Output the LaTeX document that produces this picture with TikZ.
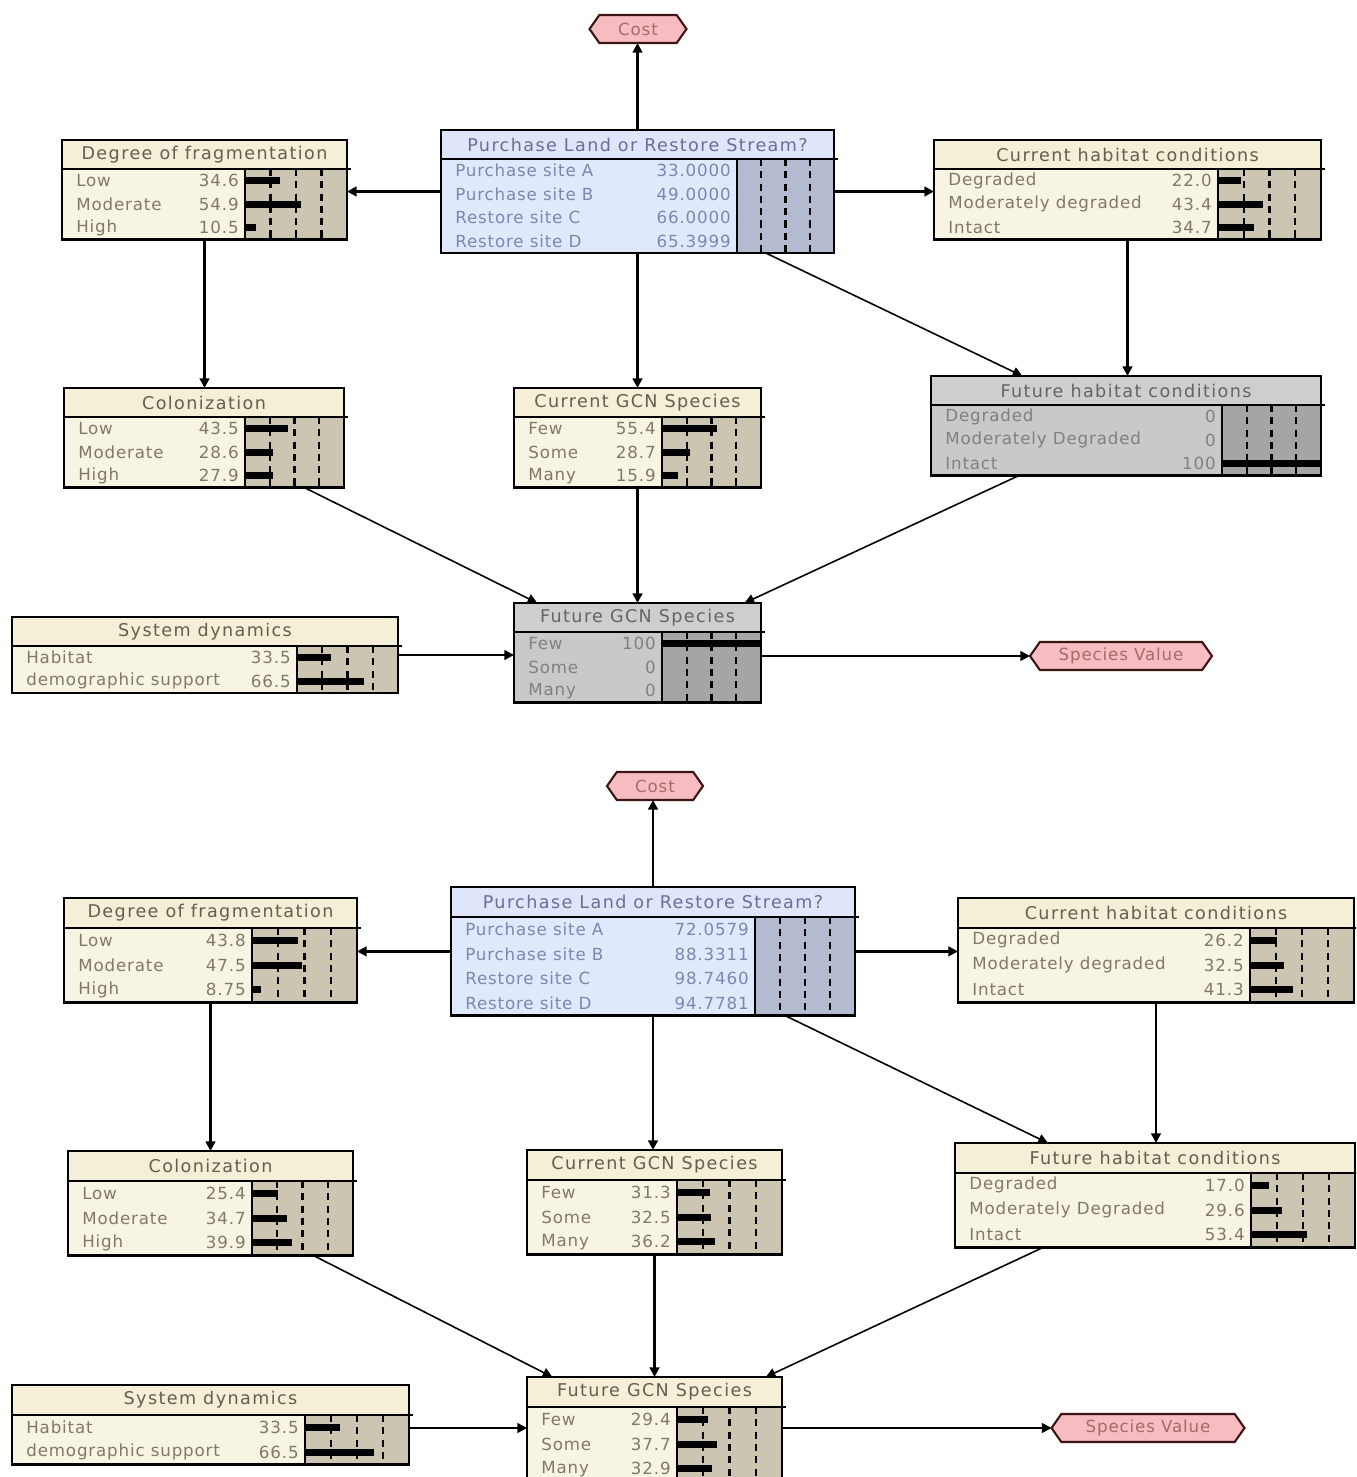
\documentclass[tikz,border=0pt]{standalone}
\usepackage{fontspec}
\setmainfont{DejaVu Sans}
\newfontfamily\headfont[LetterSpace=8]{DejaVu Sans}
\newfontfamily\rowfont[LetterSpace=5]{DejaVu Sans}
\usetikzlibrary{arrows.meta,fit,shapes.symbols}

\definecolor{creamtitle}{RGB}{244,239,214}
\definecolor{creambody}{RGB}{248,244,228}
\definecolor{creambar}{RGB}{203,197,178}
\definecolor{creamtext}{RGB}{128,122,100}
\definecolor{creamhead}{RGB}{100,95,78}
\definecolor{bluetitle}{RGB}{224,230,250}
\definecolor{bluebody}{RGB}{224,232,252}
\definecolor{bluebar}{RGB}{180,186,208}
\definecolor{bluetext}{RGB}{125,135,175}
\definecolor{bluehead}{RGB}{105,112,150}
\definecolor{greytitle}{RGB}{206,206,206}
\definecolor{greybody}{RGB}{201,201,201}
\definecolor{greybar}{RGB}{165,165,165}
\definecolor{greytext}{RGB}{128,128,128}
\definecolor{greyhead}{RGB}{100,100,100}
\definecolor{utilfill}{RGB}{246,188,194}
\definecolor{utilline}{RGB}{60,20,20}
\definecolor{utiltext}{RGB}{170,105,105}

\tikzset{
  bnbox/.style={draw,line width=1.6pt,inner sep=0pt,outer sep=0pt},
  gridline/.style={line width=1.4pt,dash pattern=on 4pt off 3pt},
  rowtext/.style={font=\rowfont\fontsize{9.5}{10}\selectfont,inner sep=0pt},
  headtext/.style={font=\headfont\fontsize{10}{11}\selectfont,inner sep=0pt},
  utility/.style={signal,signal to=west and east,signal pointer angle=110,
    draw=utilline,fill=utilfill,line width=1.2pt,text=utiltext,
    font=\rowfont\fontsize{9.5}{10}\selectfont,minimum height=0.56cm,inner sep=0pt,outer sep=0pt},
  link/.style={-{Triangle[length=5.5pt,width=5.5pt]},line width=1.5pt},
  thinlink/.style={link,line width=0.9pt}
}

% name, left, top, right, bar start, title, colours, rows
\newcommand{\bnnode}[8]{%
  \foreach \bnitem [count=\n] in {#8} {\xdef\bnn{\n}}
  \pgfmathsetmacro\bnyt{#3+\titleh}
  \pgfmathsetmacro\bnyb{#3+\titleh+\bnn*\rowh}
  \fill[#7body] (#2,\bnyt) rectangle (#5,\bnyb);
  \fill[#7title] (#2,#3) rectangle (#4,\bnyt);
  \fill[#7bar] (#5,\bnyt) rectangle (#4,\bnyb);
  \foreach \f in {0.25,0.5,0.75}
    \draw[gridline] ({#5+\f*(#4-#5)},\bnyt) -- ({#5+\f*(#4-#5)},\bnyb);
  \foreach \lab/\val/\pct [count=\i] in {#8} {
    \pgfmathsetmacro\yy{\bnyt+(\i-0.5)*\rowh}
    \node[rowtext,text=#7text,anchor=west] at (#2+14,\yy) {\lab};
    \node[rowtext,text=#7text,anchor=east] at (#5-6,\yy) {\val};
    \fill (#5,\yy-3.5) rectangle ({#5+\pct/100*(#4-#5)},\yy+3.5);
  }
  \draw[line width=1.6pt] (#2,\bnyt) -- (#4+4,\bnyt);
  \draw[line width=1.2pt] (#5,\bnyt) -- (#5,\bnyb);
  \node[bnbox,fit={(#2,#3) (#4,\bnyb)}] (#1) {};
  \node[headtext,text=#7head] at ({(#2+#4)/2},{#3+\titleh/2}) {#6};
}

\begin{document}
\begin{tikzpicture}[x=0.02cm,y=-0.02cm]
  \useasboundingbox (0,0) rectangle (1356,1477);
  \clip (0,0) rectangle (1356,1477);

  \def\rowh{23.5}\def\titleh{29}
  \bnnode{buyA}{441}{130}{834}{737}{Purchase Land or Restore Stream?}{blue}
    {Purchase site A/33.0000/0, Purchase site B/49.0000/0, Restore site C/66.0000/0, Restore site D/65.3999/0}
  \bnnode{fragA}{62}{140}{347}{245}{Degree of fragmentation}{cream}
    {Low/34.6/34.6, Moderate/54.9/54.9, High/10.5/10.5}
  \bnnode{curhabA}{934}{140}{1321}{1218}{Current habitat conditions}{cream}
    {Degraded/22.0/22.0, Moderately degraded/43.4/43.4, Intact/34.7/34.7}
  \bnnode{colA}{64}{388}{344}{245}{Colonization}{cream}
    {Low/43.5/43.5, Moderate/28.6/28.6, High/27.9/27.9}
  \bnnode{curgcnA}{514}{388}{761}{662}{Current GCN Species}{cream}
    {Few/55.4/55.4, Some/28.7/28.7, Many/15.9/15.9}
  \bnnode{futhabA}{931}{376}{1321}{1222}{Future habitat conditions}{grey}
    {Degraded/0/0, Moderately Degraded/0/0, Intact/100/100}
  \bnnode{sysA}{12}{617}{398}{297}{System dynamics}{cream}
    {Habitat/33.5/33.5, demographic support/66.5/66.5}
  \bnnode{futgcnA}{514}{603}{761}{662}{Future GCN Species}{grey}
    {Few/100/100, Some/0/0, Many/0/0}
  \node[utility,minimum width=1.94cm] (costA) at (638,29) {Cost};
  \node[utility,minimum width=3.64cm] (valueA) at (1121,656) {Species Value};

  \draw[link] (buyA.north) -- (buyA.north |- costA.south);
  \draw[link] (buyA.west) -- (buyA.west -| fragA.east);
  \draw[link] (buyA.east) -- (buyA.east -| curhabA.west);
  \draw[link] (buyA.south) -- (buyA.south |- curgcnA.north);
  \draw[thinlink] (buyA) -- (futhabA);
  \draw[link] (fragA.south) -- (fragA.south |- colA.north);
  \draw[link] (curhabA.south) -- (curhabA.south |- futhabA.north);
  \draw[thinlink] (colA) -- (futgcnA);
  \draw[link] (curgcnA.south) -- (curgcnA.south |- futgcnA.north);
  \draw[thinlink] (futhabA) -- (futgcnA);
  \draw[link] (sysA.east) -- (sysA.east -| futgcnA.west);
  \draw[link] (futgcnA.east |- valueA.west) -- (valueA.west);

  \def\rowh{24.7}\def\titleh{30}
  \bnnode{buyB}{451}{887}{855}{755}{Purchase Land or Restore Stream?}{blue}
    {Purchase site A/72.0579/0, Purchase site B/88.3311/0, Restore site C/98.7460/0, Restore site D/94.7781/0}
  \bnnode{fragB}{64}{898}{357}{252}{Degree of fragmentation}{cream}
    {Low/43.8/43.8, Moderate/47.5/47.5, High/8.75/8.75}
  \bnnode{curhabB}{958}{898}{1354}{1250}{Current habitat conditions}{cream}
    {Degraded/26.2/26.2, Moderately degraded/32.5/32.5, Intact/41.3/41.3}
  \bnnode{colB}{68}{1151}{353}{252}{Colonization}{cream}
    {Low/25.4/25.4, Moderate/34.7/34.7, High/39.9/39.9}
  \bnnode{curgcnB}{527}{1150}{782}{677}{Current GCN Species}{cream}
    {Few/31.3/31.3, Some/32.5/32.5, Many/36.2/36.2}
  \bnnode{futhabB}{955}{1143}{1355}{1251}{Future habitat conditions}{cream}
    {Degraded/17.0/17.0, Moderately Degraded/29.6/29.6, Intact/53.4/53.4}
  \bnnode{sysB}{12}{1385}{409}{305}{System dynamics}{cream}
    {Habitat/33.5/33.5, demographic support/66.5/66.5}
  \bnnode{futgcnB}{527}{1377}{782}{677}{Future GCN Species}{cream}
    {Few/29.4/29.4, Some/37.7/37.7, Many/32.9/32.9}
  \node[utility,minimum width=1.92cm] (costB) at (655,786) {Cost};
  \node[utility,minimum width=3.86cm] (valueB) at (1148,1428) {Species Value};

  \draw[link] (buyB.north) -- (buyB.north |- costB.south);
  \draw[link] (buyB.west) -- (buyB.west -| fragB.east);
  \draw[link] (buyB.east) -- (buyB.east -| curhabB.west);
  \draw[link] (buyB.south) -- (buyB.south |- curgcnB.north);
  \draw[thinlink] (buyB) -- (futhabB);
  \draw[link] (fragB.south) -- (fragB.south |- colB.north);
  \draw[link] (curhabB.south) -- (curhabB.south |- futhabB.north);
  \draw[thinlink] (colB) -- (futgcnB);
  \draw[link] (curgcnB.south) -- (curgcnB.south |- futgcnB.north);
  \draw[thinlink] (futhabB) -- (futgcnB);
  \draw[link] (sysB.east |- valueB.west) -- (futgcnB.west |- valueB.west);
  \draw[link] (futgcnB.east |- valueB.west) -- (valueB.west);
\end{tikzpicture}
\end{document}
